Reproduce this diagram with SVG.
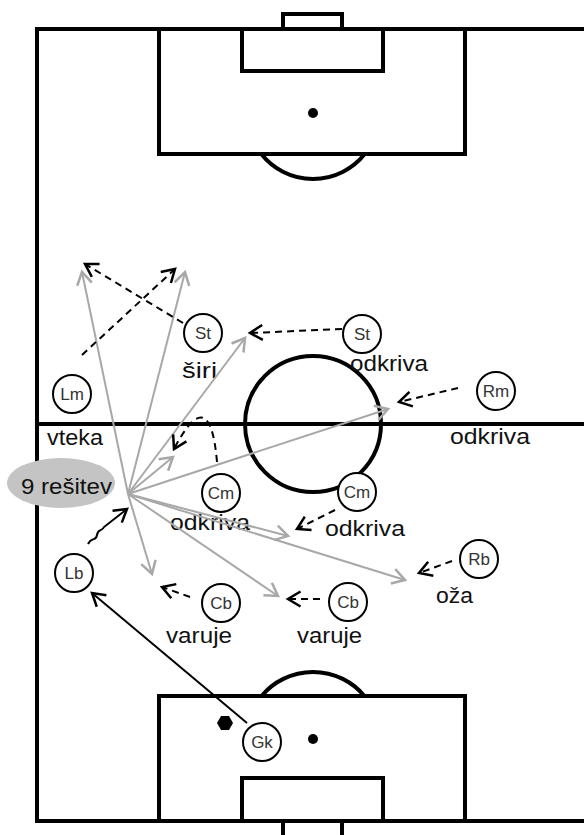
<svg xmlns="http://www.w3.org/2000/svg" width="584" height="835" viewBox="0 0 584 835">
<style>
.f{fill:none;stroke:#000;stroke-width:4}
.lbl{font-family:"Liberation Sans",Arial,sans-serif;font-size:22px;fill:#111}
.nl{font-family:"Liberation Sans",Arial,sans-serif;font-size:17px;fill:#333;text-anchor:middle}
.node circle{fill:#fff;stroke:#000;stroke-width:2}
.g{fill:none;stroke:#a8a8a8;stroke-width:2;marker-end:url(#ag)}
.d{fill:none;stroke:#000;stroke-width:2;stroke-dasharray:7 5;marker-end:url(#ab)}
.s{fill:none;stroke:#000;stroke-width:2;marker-end:url(#ab)}
</style>
<defs>
<marker id="ag" markerUnits="userSpaceOnUse" markerWidth="20" markerHeight="20" refX="0" refY="0" viewBox="-12 -8 14 16" orient="auto"><path d="M-10 -6 L0 0 L-10 6" fill="none" stroke="#a8a8a8" stroke-width="2"/></marker>
<marker id="ab" markerUnits="userSpaceOnUse" markerWidth="20" markerHeight="20" refX="0" refY="0" viewBox="-12 -8 14 16" orient="auto"><path d="M-10 -6 L0 0 L-10 6" fill="none" stroke="#000" stroke-width="2"/></marker>
</defs>
<rect width="584" height="835" fill="#fff"/>
<g id="field">
<path class="f" d="M584 29 H37 V821 H584"/>
<path class="f" d="M37 424 H584"/>
<rect class="f" x="159" y="29" width="306" height="125"/>
<rect class="f" x="242" y="29" width="141" height="42"/>
<rect class="f" x="283" y="14" width="59" height="15"/>
<circle cx="313" cy="113" r="5"/>
<path class="f" d="M261.3 154 A66 66 0 0 0 364.7 154"/>
<circle class="f" cx="313" cy="424" r="68"/>
<rect class="f" x="159" y="696" width="306" height="125"/>
<rect class="f" x="242" y="778" width="141" height="43"/>
<rect class="f" x="283" y="821" width="59" height="20"/>
<circle cx="313" cy="739" r="5"/>
<path class="f" d="M261.6 696 A67 67 0 0 1 364.4 696"/>
<polygon points="233,723 229,730 221,730 217,723 221,716 229,716"/>
</g>
<g id="solutions">
<ellipse cx="61" cy="483" rx="54" ry="25" fill="#c4c4c4"/>
<text class="lbl" x="21" y="494" textLength="91" lengthAdjust="spacingAndGlyphs">9 rešitev</text>
</g>
<g id="labels">
<text class="lbl" x="182" y="378" textLength="35" lengthAdjust="spacingAndGlyphs">širi</text>
<text class="lbl" x="350" y="371" textLength="78" lengthAdjust="spacingAndGlyphs">odkriva</text>
<text class="lbl" x="450" y="444" textLength="80" lengthAdjust="spacingAndGlyphs">odkriva</text>
<text class="lbl" x="47" y="445" textLength="56" lengthAdjust="spacingAndGlyphs">vteka</text>
<text class="lbl" x="170" y="530" textLength="80" lengthAdjust="spacingAndGlyphs">odkriva</text>
<text class="lbl" x="325" y="536" textLength="80" lengthAdjust="spacingAndGlyphs">odkriva</text>
<text class="lbl" x="436" y="603" textLength="37" lengthAdjust="spacingAndGlyphs">oža</text>
<text class="lbl" x="166" y="643" textLength="66" lengthAdjust="spacingAndGlyphs">varuje</text>
<text class="lbl" x="297" y="643" textLength="65" lengthAdjust="spacingAndGlyphs">varuje</text>
</g>
<g id="connectors">
<path class="g" d="M128 494 L82 272"/>
<path class="g" d="M128 494 L185 272"/>
<path class="g" d="M128 494 L245 338"/>
<path class="g" d="M128 494 L173 457"/>
<path class="g" d="M128 494 L388 409"/>
<path class="g" d="M128 494 L288 536"/>
<path class="g" d="M128 494 L405 580"/>
<path class="g" d="M128 494 L278 596"/>
<path class="g" d="M128 494 L152 574"/>
<path class="d" d="M183 323 L85 264"/>
<path class="d" d="M82 355 L175 269"/>
<path class="d" d="M342 329 L250 333"/>
<path class="d" d="M458 388 L399 402"/>
<path class="d" d="M335 510 L297 529"/>
<path class="d" d="M452 561 L419 573"/>
<path class="d" d="M320 599 L288 599"/>
<path class="d" d="M190 597 L162 587"/>
<path class="d" d="M217 462 Q210 380 174 449"/>
<path class="s" d="M88 544 C92 536 96 542 97 535 C98 528 102 532 104 527 L127 509"/>
<path class="s" d="M247 723 L92 593"/>
</g>
<g id="St1" class="node"><circle cx="203" cy="333" r="19"/><text class="nl" x="203" y="339">St</text></g>
<g id="St2" class="node"><circle cx="362" cy="334" r="19"/><text class="nl" x="362" y="340">St</text></g>
<g id="Lm" class="node"><circle cx="72" cy="394" r="19"/><text class="nl" x="72" y="400">Lm</text></g>
<g id="Rm" class="node"><circle cx="496" cy="391" r="19"/><text class="nl" x="496" y="397">Rm</text></g>
<g id="Cm1" class="node"><circle cx="221" cy="493" r="19"/><text class="nl" x="221" y="499">Cm</text></g>
<g id="Cm2" class="node"><circle cx="357" cy="492" r="19"/><text class="nl" x="357" y="498">Cm</text></g>
<g id="Lb" class="node"><circle cx="74" cy="573" r="19"/><text class="nl" x="74" y="579">Lb</text></g>
<g id="Cb1" class="node"><circle cx="221" cy="603" r="19"/><text class="nl" x="221" y="609">Cb</text></g>
<g id="Cb2" class="node"><circle cx="348" cy="602" r="19"/><text class="nl" x="348" y="608">Cb</text></g>
<g id="Rb" class="node"><circle cx="479" cy="559" r="19"/><text class="nl" x="479" y="565">Rb</text></g>
<g id="Gk" class="node"><circle cx="262" cy="742" r="19"/><text class="nl" x="262" y="748">Gk</text></g>
</svg>
